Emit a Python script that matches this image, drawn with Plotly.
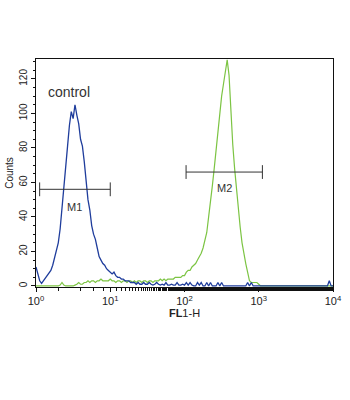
import numpy as np
import plotly.graph_objects as go

# Histogram channels (log10 of FL1-H), step 0.025
log_fl1 = [round(i * 0.025, 3) for i in range(161)]

# Control (blue) counts per channel
control_counts = [
    11, 6, 3, 1.5, 3, 4, 6, 7, 9, 12,
    16, 20, 25, 33, 44, 55, 68, 81, 93, 101,
    97, 105, 99, 94, 85, 81, 72, 61, 50, 44,
    35, 30, 27, 22, 17, 15, 13, 12, 10, 9,
    8, 7, 8, 6, 5, 5, 4, 4, 3, 3,
    3, 2, 2, 2, 1, 2, 1, 1, 2, 1,
    1, 2, 1, 0.5, 1, 2, 1, 0.5, 1, 0.5,
    2, 0.5, 0.5, 1, 0.5, 0.5, 2, 0.5, 0.5, 1,
    0.5, 2, 0.5, 2, 0.5, 0, 0, 2, 0.5, 2,
    0, 0, 2, 0, 2, 0, 0, 0, 2, 0,
    2, 0, 0, 0, 0, 0, 0, 0, 0, 0,
    0, 0, 0, 0, 2, 0, 2, 0, 0, 0,
    0, 0, 0, 0, 0, 0, 0, 0, 0, 0,
    0, 0, 0, 0, 0, 0, 0, 0, 0, 0,
    0, 0, 0, 0, 0, 0, 0, 0, 0, 0,
    0, 0, 0, 0, 0, 0, 0, 0, 3, 0,
    0,
]

# Antibody-stained sample (green) counts per channel
sample_counts = [
    0, 0, 0, 0, 0, 0, 0, 0, 0, 0,
    0, 0, 0, 0.5, 2, 0.5, 0, 0, 0, 0,
    0, 0.5, 1, 2, 1, 1, 2, 2, 3, 2,
    3, 3, 2, 3, 3, 4, 3, 3, 3, 3,
    4, 3, 3, 2, 3, 3, 2, 3, 3, 2,
    3, 3, 2, 3, 2, 3, 3, 2, 3, 3,
    2, 3, 3, 2, 3, 3, 3, 4, 3, 4,
    3, 4, 4, 4, 4, 5, 5, 5, 5, 6,
    6, 8, 9, 9, 11, 12, 13, 15, 17, 19,
    22, 26, 31, 40, 48, 58, 68, 79, 90, 101,
    110, 117, 124, 131, 122, 97, 82, 68, 55, 44,
    34, 25, 18, 13, 8, 3, 2, 2, 2, 2,
    1, 0, 0, 0, 0, 0, 0, 0, 0, 0,
    0, 0, 0, 0, 0, 0, 0, 0, 0, 0,
    0, 0, 0, 0, 0, 0, 0, 0, 0, 0,
    0, 0, 0, 0, 0, 0, 0, 0, 0, 0,
    0,
]

# Gate markers: name, lower bound, upper bound, bar height, label height
gate_names = ["M1", "M2"]
gate_lo = [1.12, 105]
gate_hi = [10, 1120]
gate_y = [56, 66]
gate_label_y = [46, 57]
gate_cap = 4

x_tick_vals = [1, 10, 100, 1000, 10000]
x_tick_text = ["10<sup>0</sup>", "10<sup>1</sup>", "10<sup>2</sup>", "10<sup>3</sup>", "10<sup>4</sup>"]
y_tick_vals = [0, 20, 40, 60, 80, 100, 120]

fl1 = [10 ** v for v in log_fl1]

fig = go.Figure()
fig.add_trace(go.Scatter(x=fl1, y=sample_counts, mode="lines",
                         line=dict(color="#7cc443", width=1.2), hoverinfo="skip"))
fig.add_trace(go.Scatter(x=fl1, y=control_counts, mode="lines",
                         line=dict(color="#1f3d9c", width=1.3), hoverinfo="skip"))

for name, lo, hi, yb, yl in zip(gate_names, gate_lo, gate_hi, gate_y, gate_label_y):
    fig.add_trace(go.Scatter(
        x=[lo, lo, None, lo, hi, None, hi, hi],
        y=[yb - gate_cap, yb + gate_cap, None, yb, yb, None, yb - gate_cap, yb + gate_cap],
        mode="lines", line=dict(color="#333333", width=1), hoverinfo="skip"))
    fig.add_annotation(x=np.log10(np.sqrt(lo * hi)), y=yl, text=name, showarrow=False,
                       font=dict(size=11, color="#333333", family="Liberation Sans"))

fig.add_annotation(xref="paper", yref="paper", x=0.035, y=0.9, xanchor="left",
                   text="control", showarrow=False,
                   font=dict(size=14, color="#333333", family="Liberation Sans"))

fig.update_layout(
    width=350, height=400,
    margin=dict(l=36, r=17, t=59, b=113),
    paper_bgcolor="white", plot_bgcolor="white",
    showlegend=False,
    font=dict(family="Liberation Sans", color="#222222", size=9),
)
fig.update_xaxes(
    type="log", range=[0, 4], automargin=False,
    tickvals=x_tick_vals, ticktext=x_tick_text,
    ticks="outside", ticklen=4, tickcolor="#111111",
    minor=dict(ticks="outside", ticklen=3, tickcolor="#111111", showgrid=False),
    showline=True, linecolor="#111111", linewidth=1, mirror=True,
    showgrid=False, zeroline=False,
    tickfont=dict(size=11, color="#222222"),
    title=dict(text="<b>FL</b>1-H", font=dict(size=11, color="#222222"), standoff=2),
)
fig.update_yaxes(
    range=[-0.6, 131.5], automargin=False,
    tickvals=y_tick_vals, tickangle=-90,
    ticks="outside", ticklen=4, tickcolor="#111111",
    minor=dict(ticks="outside", ticklen=2, dtick=5, tickcolor="#111111", showgrid=False),
    showline=True, linecolor="#111111", linewidth=1, mirror=True,
    showgrid=False, zeroline=False,
    tickfont=dict(size=10, color="#222222"),
    title=dict(text="Counts", font=dict(size=10, color="#222222"), standoff=2),
)

fig.write_html("out.html")
